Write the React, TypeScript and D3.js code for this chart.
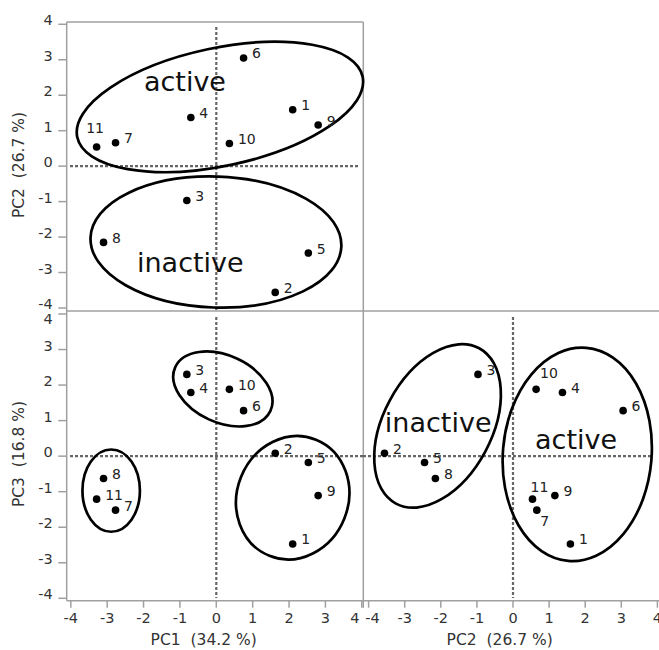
import React from 'react';
import * as d3 from 'd3';

const samples = ['1', '2', '3', '4', '5', '6', '7', '8', '9', '10', '11'];
const pc1 = [2.1, 1.62, -0.81, -0.7, 2.53, 0.75, -2.77, -3.1, 2.8, 0.36, -3.29];
const pc2 = [1.59, -3.56, -0.97, 1.37, -2.45, 3.05, 0.66, -2.15, 1.16, 0.64, 0.54];
const pc3 = [-2.47, 0.08, 2.3, 1.79, -0.18, 1.28, -1.52, -0.63, -1.11, 1.88, -1.21];
const tickValues = [-4, -3, -2, -1, 0, 1, 2, 3, 4];

const groupsTop = [
  { name: 'active', cx: 0.1, cy: 1.67, rx: 4.01, ry: 1.62, angle: -12, lx: -1.99, ly: 2.13 },
  { name: 'inactive', cx: -0.01, cy: -2.14, rx: 3.45, ry: 1.8, angle: 2, lx: -2.18, ly: -2.99 },
];
const groupsBL = [
  { name: '', cx: 0.18, cy: 1.89, rx: 1.44, ry: 0.92, angle: 24.7, lx: 0, ly: 0 },
  { name: '', cx: -2.89, cy: -0.97, rx: 0.79, ry: 1.13, angle: 0, lx: 0, ly: 0 },
  { name: '', cx: 2.1, cy: -1.17, rx: 1.53, ry: 1.72, angle: 21.8, lx: 0, ly: 0 },
];
const groupsBR = [
  { name: 'inactive', cx: -2.09, cy: 0.85, rx: 1.5, ry: 2.44, angle: 28.2, lx: -3.55, ly: 0.68 },
  { name: 'active', cx: 1.78, cy: 0.05, rx: 2.06, ry: 2.96, angle: 4.85, lx: 0.61, ly: 0.2 },
];

const FONT = 'DejaVu Sans, Verdana, sans-serif';
const FRAME = '#a0a0a0';
const DASH = '#666';
const W = 659;
const H = 650;

const frameL = 66.7, frameR = 363.3, frameT = 22, frameM = 311, frameB = 600.7;

const xLeft = d3.scaleLinear().domain([-4, 4]).range([70.8, 361.8]);
const xRight = d3.scaleLinear().domain([-4, 4]).range([368.6, 657.4]);
const yTop = d3.scaleLinear().domain([-4, 4]).range([308, 24.3]);
const yBot = d3.scaleLinear().domain([-4, 4]).range([598.3, 314]);

type Off = { [k: string]: [number, number] };
const defOff: [number, number] = [8.5, 0.5];

function Panel({ x, y, xScale, yScale, groups, offsets, dashX, dashY }: any) {
  const unit = xScale(1) - xScale(0);
  return (
    <g>
      <line x1={dashX[0]} x2={dashX[1]} y1={yScale(0)} y2={yScale(0)} stroke={DASH} strokeWidth={2.2} strokeDasharray="3,2" />
      <line x1={xScale(0)} x2={xScale(0)} y1={dashY[0]} y2={dashY[1]} stroke={DASH} strokeWidth={2.2} strokeDasharray="3,2" />
      {groups.map((g: any, i: number) => {
        const cx = xScale(g.cx);
        const cy = yScale(g.cy);
        return (
          <g key={i}>
            <ellipse cx={cx} cy={cy} rx={g.rx * unit} ry={g.ry * unit} fill="none" stroke="#000" strokeWidth={2.7}
              transform={`rotate(${g.angle} ${cx} ${cy})`} />
            {g.name && (
              <text x={xScale(g.lx)} y={yScale(g.ly)} fontSize={27} fontFamily={FONT} fill="#111">{g.name}</text>
            )}
          </g>
        );
      })}
      {samples.map((s, i) => {
        const px = xScale(x[i]);
        const py = yScale(y[i]);
        const o = (offsets as Off)[s] || defOff;
        return (
          <g key={s}>
            <circle cx={px} cy={py} r={3.8} fill="#000" />
            <text x={px + o[0]} y={py + o[1]} fontSize={14} fontFamily={FONT} fill="#222">{s}</text>
          </g>
        );
      })}
    </g>
  );
}

export default function App() {
  const offTop: Off = { '11': [-10.5, -14] };
  const offBL: Off = {};
  const offBR: Off = { '10': [4, -11], '11': [-2, -7.5], '7': [3.5, 16] };
  return (
    <svg width={W} height={H} style={{ position: 'absolute', left: 0, top: 0, display: 'block', background: '#fff' }}>
      <rect x={0} y={0} width={W} height={H} fill="#fff" />
      <g stroke={FRAME} strokeWidth={1.5} fill="none">
        <line x1={frameL} x2={frameR} y1={frameT} y2={frameT} />
        <line x1={frameL} x2={W} y1={frameM} y2={frameM} />
        <line x1={frameL} x2={W} y1={frameB} y2={frameB} />
        <line x1={frameL} x2={frameL} y1={frameT} y2={frameB} />
        <line x1={frameR} x2={frameR} y1={frameT} y2={frameB + 7} />
      </g>
      {[yTop, yBot].map((ys, k) => (
        <g key={k}>
          {tickValues.map((t) => {
            const shift = k === 1 && t === 4 ? 9 : 0;
            return (
              <g key={t}>
                <line x1={58.3} x2={frameL} y1={ys(t)} y2={ys(t)} stroke={FRAME} strokeWidth={1.5} />
                <text x={52.7} y={ys(t) + 1 + shift} textAnchor="end" fontSize={14.5} fontFamily={FONT} fill="#333">{t}</text>
              </g>
            );
          })}
        </g>
      ))}
      {[xLeft, xRight].map((xs, k) => (
        <g key={k}>
          {tickValues.map((t) => {
            let shift = 0;
            if (k === 0 && t === 4) shift = -7;
            if (k === 1 && t === -4) shift = 4;
            return (
              <g key={t}>
                <line x1={xs(t)} x2={xs(t)} y1={frameB} y2={frameB + 7} stroke={FRAME} strokeWidth={1.5} />
                <text x={xs(t) + shift} y={622.5} textAnchor="middle" fontSize={14.5} fontFamily={FONT} fill="#333">{t}</text>
              </g>
            );
          })}
        </g>
      ))}
      <text x={203.7} y={645} textAnchor="middle" fontSize={15.5} fontFamily={FONT} fill="#333" xmlSpace="preserve">PC1  (34.2 %)</text>
      <text x={499.7} y={645} textAnchor="middle" fontSize={15.5} fontFamily={FONT} fill="#333" xmlSpace="preserve">PC2  (26.7 %)</text>
      <text transform="translate(24,165) rotate(-90)" textAnchor="middle" fontSize={15.5} fontFamily={FONT} fill="#333" xmlSpace="preserve">PC2  (26.7 %)</text>
      <text transform="translate(24,454) rotate(-90)" textAnchor="middle" fontSize={15.5} fontFamily={FONT} fill="#333" xmlSpace="preserve">PC3  (16.8 %)</text>

      <Panel x={pc1} y={pc2} xScale={xLeft} yScale={yTop} groups={groupsTop} offsets={offTop}
        dashX={[70, 359]} dashY={[27, 311]} />
      <Panel x={pc1} y={pc3} xScale={xLeft} yScale={yBot} groups={groupsBL} offsets={offBL}
        dashX={[70, 363]} dashY={[317, 598]} />
      <Panel x={pc2} y={pc3} xScale={xRight} yScale={yBot} groups={groupsBR} offsets={offBR}
        dashX={[363, 652]} dashY={[317, 598]} />
    </svg>
  );
}
